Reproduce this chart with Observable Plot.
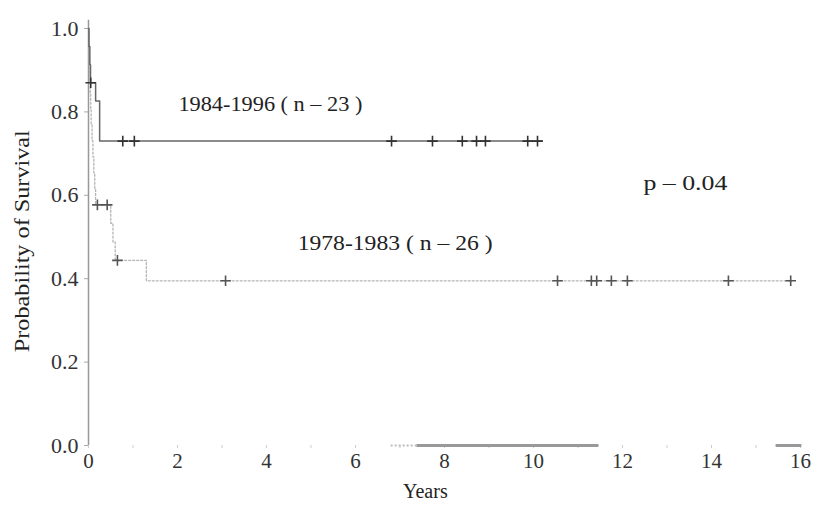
<!DOCTYPE html>
<html>
<head>
<meta charset="utf-8">
<script src="https://cdn.jsdelivr.net/npm/d3@7"></script>
<script src="https://cdn.jsdelivr.net/npm/@observablehq/plot@0.6"></script>
<style>
  html, body { margin: 0; padding: 0; background: #fff; }
  #chart svg { display: block; }
</style>
</head>
<body>
<div id="chart"></div>
<script>
// 1984-1996 group (n = 23): step curve
const recentTimes = [0, 0.01, 0.03, 0.045, 0.16, 0.25, 10.2];
const recentSurv  = [1.0, 0.957, 0.913, 0.870, 0.826, 0.73, 0.73];
const recentCensorTimes = [0.05, 0.77, 1.03, 6.81, 7.73, 8.40, 8.72, 8.92, 9.87, 10.09];
const recentCensorSurv  = [0.870, 0.73, 0.73, 0.73, 0.73, 0.73, 0.73, 0.73, 0.73, 0.73];

// 1978-1983 group (n = 26): step curve
const earlyTimes = [0, 0.01, 0.02, 0.03, 0.04, 0.05, 0.06, 0.08, 0.10, 0.12, 0.14, 0.16, 0.50, 0.55, 0.60, 1.30, 15.8];
const earlySurv  = [1.0, 0.962, 0.923, 0.885, 0.846, 0.808, 0.769, 0.731, 0.692, 0.654, 0.615, 0.577, 0.533, 0.488, 0.444, 0.395, 0.395];
const earlyCensorTimes = [0.20, 0.42, 0.65, 3.08, 10.54, 11.30, 11.42, 11.75, 12.11, 14.38, 15.78];
const earlyCensorSurv  = [0.577, 0.577, 0.444, 0.395, 0.395, 0.395, 0.395, 0.395, 0.395, 0.395, 0.395];

// grey bars lying on the 0.0 baseline
const baseStart = [7.37, 15.44];
const baseEnd   = [11.46, 16.02];
const baseDotStart = [6.79];
const baseDotEnd   = [7.37];

const xTicks = [0, 1, 2, 3, 4, 5, 6, 7, 8, 9, 10, 11, 12, 13, 14, 15, 16];
const yTicks = [0, 0.2, 0.4, 0.6, 0.8, 1.0];

const labelTexts = ["1984-1996 ( n – 23 )", "1978-1983 ( n – 26 )", "p – 0.04"];
const labelX = [2.02, 4.70, 12.47];
const labelY = [0.818, 0.484, 0.628];
const labelWidths = [184, 195, 84];

const yTitle = "Probability of Survival";
const xTitle = "Years";

const recent = recentTimes.map((t, i) => ({t, s: recentSurv[i]}));
const early = earlyTimes.map((t, i) => ({t, s: earlySurv[i]}));
const recentC = recentCensorTimes.map((t, i) => ({t, s: recentCensorSurv[i]}));
const earlyC = earlyCensorTimes.map((t, i) => ({t, s: earlyCensorSurv[i]}));
const base = baseStart.map((a, i) => ({a, b: baseEnd[i]}));
const baseDot = baseDotStart.map((a, i) => ({a, b: baseDotEnd[i]}));
const labels = labelTexts.map((text, i) => ({text, x: labelX[i], y: labelY[i]}));

const chart = Plot.plot({
  width: 817,
  height: 512,
  marginLeft: 88,
  marginRight: 17,
  marginTop: 28,
  marginBottom: 67,
  style: {fontFamily: "'Liberation Serif', 'DejaVu Serif', serif", fontSize: "21px", color: "#333", background: "#fff"},
  x: {domain: [0, 16]},
  y: {domain: [0, 1]},
  marks: [
    Plot.axisX({ticks: xTicks, tickSize: 3, stroke: "#ccc", tickPadding: 5, fill: "#333",
      tickFormat: d => d % 2 ? "" : String(d), label: null, fontSize: 21}),
    Plot.axisY({ticks: yTicks, tickSize: 4, stroke: "#aaa", tickPadding: 6, fill: "#333",
      tickFormat: d3.format(".1f"), label: null, fontSize: 22}),
    Plot.ruleX([0], {y1: 0, y2: 1.02, stroke: "#999", strokeWidth: 1.5}),
    Plot.link(baseDot, {x1: "a", x2: "b", y1: 0, y2: 0, stroke: "#bbb", strokeWidth: 2, strokeDasharray: "2,2"}),
    Plot.link(base, {x1: "a", x2: "b", y1: 0, y2: 0, stroke: "#999", strokeWidth: 3}),
    Plot.line(early, {x: "t", y: "s", curve: "step-after", stroke: "#b5b5b5", strokeWidth: 1.3, strokeDasharray: "2,2"}),
    Plot.line(recent, {x: "t", y: "s", curve: "step-after", stroke: "#666", strokeWidth: 1.5}),
    Plot.dot(earlyC, {x: "t", y: "s", symbol: "plus", r: 3.5, stroke: "#555", strokeWidth: 1.6}),
    Plot.dot(recentC, {x: "t", y: "s", symbol: "plus", r: 3.5, stroke: "#333", strokeWidth: 1.6}),
    Plot.text(labels, {x: "x", y: "y", text: "text", textAnchor: "start", fill: "#222", fontSize: 21, className: "annot"}),
    Plot.text([yTitle], {x: -1.48, y: 0.49, rotate: -90, fill: "#222", fontSize: 21, className: "ytitle"}),
    Plot.text([xTitle], {x: 7.57, frameAnchor: "bottom", dy: 52, fill: "#222", fontSize: 20})
  ]
});
// stretch the scanned-looking texts to their measured widths
d3.select(chart).selectAll("g.annot text").each(function(d, i) {
  d3.select(this).attr("textLength", labelWidths[i]).attr("lengthAdjust", "spacingAndGlyphs");
});
d3.select(chart).selectAll("g.ytitle text").attr("textLength", 222).attr("lengthAdjust", "spacingAndGlyphs");
document.getElementById("chart").appendChild(chart);
</script>
</body>
</html>
